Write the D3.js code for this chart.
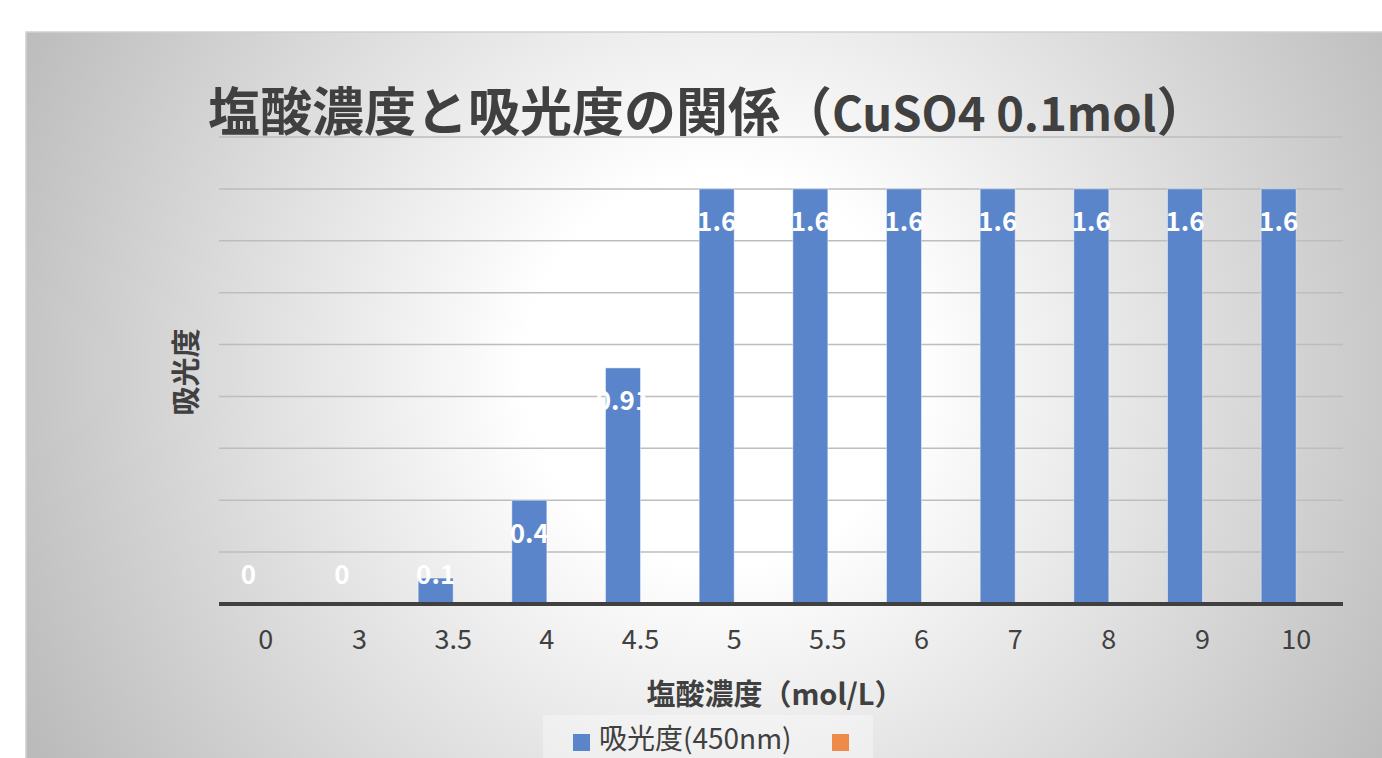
<!DOCTYPE html>
<html>
<head>
<meta charset="utf-8">
<script src="https://cdn.jsdelivr.net/npm/d3@7"></script>
<style>
  html, body { margin: 0; padding: 0; background: #ffffff; }
  svg { display: block; }
</style>
</head>
<body>
<svg id="chart" width="1382" height="758"></svg>
<script>
// Hydrochloric acid concentration (mol/L) vs absorbance at 450 nm
const categories = ["0", "3", "3.5", "4", "4.5", "5", "5.5", "6", "7", "8", "9", "10"];
const absorbance = [0, 0, 0.1, 0.4, 0.91, 1.6, 1.6, 1.6, 1.6, 1.6, 1.6, 1.6];
const seriesNames = ["吸光度(450nm)", ""];
const yTicks = [0, 0.2, 0.4, 0.6, 0.8, 1.0, 1.2, 1.4, 1.6, 1.8];

const titleMain = "塩酸濃度と吸光度の関係（";
const titleSub = "CuSO4 0.1mol";
const titleEnd = "）";
const xTitle = "塩酸濃度（mol/L）";
const yTitle = "吸光度";

const FONT = "'Noto Sans CJK JP', 'Noto Sans', sans-serif";
const TEXT = "#404040";
const colors = ["#5b85cb", "#ed8b4b"];

const svg = d3.select("#chart");

// background panel with radial fill
const defs = svg.append("defs");
const grad = defs.append("radialGradient")
  .attr("id", "bg").attr("gradientUnits", "userSpaceOnUse")
  .attr("cx", 720).attr("cy", 370).attr("r", 780);
grad.append("stop").attr("offset", "0%").attr("stop-color", "#ffffff");
grad.append("stop").attr("offset", "25%").attr("stop-color", "#ffffff");
grad.append("stop").attr("offset", "100%").attr("stop-color", "#bbbbbb");

svg.append("rect")
  .attr("x", 26).attr("y", 32).attr("width", 1400).attr("height", 760)
  .attr("fill", "url(#bg)")
  .attr("stroke", "#d0d0d0").attr("stroke-width", 1.5);

const plot = { left: 219, right: 1343, top: 137, bottom: 604 };

const x0 = d3.scaleBand().domain(categories)
  .range([plot.left, plot.right]).paddingInner(0).paddingOuter(0);
const groupWidth = 70;
const x1 = d3.scaleBand().domain(seriesNames.map((d, i) => i))
  .range([0, groupWidth]);
const groupOffset = (x0.bandwidth() - groupWidth) / 2;

const y = d3.scaleLinear().domain([0, 1.8]).range([plot.bottom, plot.top]);

// horizontal gridlines
svg.append("g")
  .selectAll("line")
  .data(yTicks.filter(t => t > 0))
  .join("line")
  .attr("x1", plot.left).attr("x2", plot.right)
  .attr("y1", d => y(d)).attr("y2", d => y(d))
  .attr("stroke", "#bdbdbd").attr("stroke-width", 1.5);

// bars (first series only carries values)
const data = categories.map((c, i) => ({ c, v: absorbance[i] }));
svg.append("g")
  .selectAll("rect")
  .data(data)
  .join("rect")
  .attr("x", d => x0(d.c) + groupOffset + x1(0))
  .attr("width", x1.bandwidth())
  .attr("y", d => y(d.v))
  .attr("height", d => y(0) - y(d.v))
  .attr("fill", colors[0])
  .attr("stroke", "rgba(255,255,255,0.45)")
  .attr("stroke-width", 1);

// category axis
const xAxis = svg.append("g")
  .attr("transform", `translate(0,${plot.bottom})`)
  .call(d3.axisBottom(x0).tickSize(0).tickPadding(26));
xAxis.select(".domain").attr("stroke", "#404040").attr("stroke-width", 4)
  .attr("d", `M${plot.left},0H${plot.right}`);
xAxis.selectAll("text")
  .attr("font-family", FONT).attr("font-size", 27).attr("fill", TEXT);

// data labels inside bar ends
svg.append("g")
  .selectAll("text")
  .data(data)
  .join("text")
  .attr("x", d => x0(d.c) + groupOffset + x1(0) + x1.bandwidth() / 2)
  .attr("y", d => Math.min(y(d.v) + 33, y(0) - 29))
  .attr("dy", "0.36em")
  .attr("text-anchor", "middle")
  .attr("font-family", FONT).attr("font-weight", 700).attr("font-size", 26)
  .attr("fill", "#ffffff")
  .text(d => d.v);

// chart title
const t = svg.append("text")
  .attr("x", 208).attr("y", 131)
  .attr("font-family", FONT).attr("font-weight", 700).attr("font-size", 52)
  .attr("fill", TEXT);
t.append("tspan").text(titleMain);
t.append("tspan").attr("font-size", 47).text(titleSub);
t.append("tspan").text(titleEnd);

// axis titles
svg.append("text")
  .attr("transform", "translate(187,372) rotate(-90)")
  .attr("text-anchor", "middle").attr("dy", "0.36em")
  .attr("font-family", FONT).attr("font-weight", 700).attr("font-size", 29)
  .attr("fill", TEXT)
  .text(yTitle);

svg.append("text")
  .attr("x", 775).attr("y", 695).attr("dy", "0.36em")
  .attr("text-anchor", "middle")
  .attr("font-family", FONT).attr("font-weight", 700).attr("font-size", 29)
  .attr("fill", TEXT)
  .text(xTitle);

// legend
const legend = svg.append("g");
legend.append("rect")
  .attr("x", 543).attr("y", 715).attr("width", 330).attr("height", 50)
  .attr("fill", "#ffffff").attr("opacity", 0.35);
const legendItems = [
  { name: seriesNames[0], color: colors[0], x: 573 },
  { name: seriesNames[1], color: colors[1], x: 832 }
];
legendItems.forEach(it => {
  legend.append("rect")
    .attr("x", it.x).attr("y", 734).attr("width", 17).attr("height", 17)
    .attr("fill", it.color);
  legend.append("text")
    .attr("x", it.x + 26).attr("y", 739).attr("dy", "0.36em")
    .attr("font-family", FONT).attr("font-size", 28).attr("fill", TEXT)
    .text(it.name);
});
</script>
</body>
</html>
